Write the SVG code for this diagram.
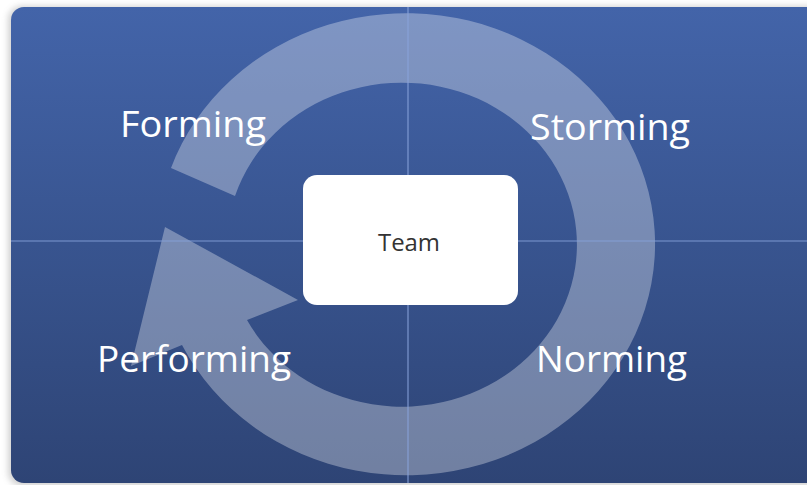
<svg xmlns="http://www.w3.org/2000/svg" width="807" height="485" viewBox="0 0 807 485">
  <defs>
    <linearGradient id="bg" x1="0" y1="0" x2="0" y2="1">
      <stop offset="0" stop-color="#4364a9"/>
      <stop offset="0.5" stop-color="#38548f"/>
      <stop offset="1" stop-color="#2e4475"/>
    </linearGradient>
    <filter id="sh" x="-5%" y="-5%" width="110%" height="110%">
      <feGaussianBlur stdDeviation="3"/>
    </filter>
    <style>
      .lbl { font-family: "Open Sans", "Noto Sans", "DejaVu Sans", sans-serif; font-size: 37px; fill: #ffffff; }
      .grid { stroke: #8aa3dc; stroke-width: 1.2; stroke-opacity: 0.85; }
    </style>
  </defs>
  <rect width="807" height="485" fill="#ffffff"/>
  <rect x="8" y="6" width="820" height="480" rx="14" fill="#9a9a9a" opacity="0.45" filter="url(#sh)"/>
  <rect x="11" y="7" width="820" height="476" rx="13" fill="url(#bg)"/>
  <g id="cycle-arrow">
    <path d="M 171,168 A 249 231 0 1 1 182,345 L 131,366 L 165,227 L 298,300 L 247,320 A 175 162 0 1 0 235,196 Z" fill="#ffffff" fill-opacity="0.32"/>
  </g>
  <g id="connectors">
    <line class="grid" x1="408" y1="7" x2="408" y2="483"/>
    <line class="grid" x1="11" y1="241" x2="807" y2="241"/>
  </g>
  <g id="team">
    <rect x="303" y="175" width="215" height="130" rx="14" fill="#ffffff"/>
    <text x="409" y="251" text-anchor="middle" font-family="Open Sans, Noto Sans, DejaVu Sans, sans-serif" font-size="24" fill="#333333" textLength="62" lengthAdjust="spacingAndGlyphs">Team</text>
  </g>
  <g id="forming"><text class="lbl" x="120" y="137" textLength="146" lengthAdjust="spacingAndGlyphs">Forming</text></g>
  <g id="storming"><text class="lbl" x="530" y="140" textLength="160" lengthAdjust="spacingAndGlyphs">Storming</text></g>
  <g id="performing"><text class="lbl" x="97" y="372" textLength="194" lengthAdjust="spacingAndGlyphs">Performing</text></g>
  <g id="norming"><text class="lbl" x="536" y="372" textLength="151" lengthAdjust="spacingAndGlyphs">Norming</text></g>
</svg>
